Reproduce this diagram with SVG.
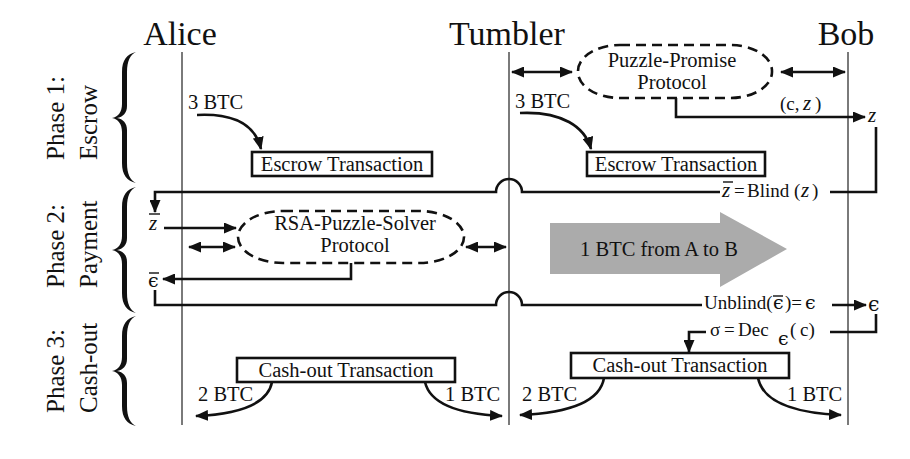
<svg xmlns="http://www.w3.org/2000/svg" width="910" height="459" viewBox="0 0 910 459">
<style>
text{font-family:"Liberation Serif","Times New Roman",serif;fill:#111}
.t{font-size:34px}
.ph{font-size:25px}
.l{font-size:20.5px}
.s{font-size:19px}
.z{font-size:21px;font-style:italic}
.m{font-family:"DejaVu Serif","Liberation Serif",serif}
.i{font-style:italic}
.life{stroke:#7a7a7a;stroke-width:2;fill:none}
.c{stroke:#111;stroke-width:2.6;fill:none}
.bar{stroke:#111;stroke-width:1.4}
.box{fill:#fff;stroke:#111;stroke-width:2.6}
.dash{fill:#fff;stroke:#111;stroke-width:2.6;stroke-dasharray:10 6}
.a{marker-end:url(#ah)}
.d{marker-start:url(#ah);marker-end:url(#ah)}
.brace{fill:#111}
</style>
<defs>
<marker id="ah" viewBox="0 0 13 11" refX="12" refY="5.5" markerWidth="13" markerHeight="11" markerUnits="userSpaceOnUse" orient="auto-start-reverse"><path d="M0,0 L13,5.5 L0,11 Z" fill="#111"/></marker>
</defs>
<rect width="910" height="459" fill="#fff"/>

<g id="titles">
<text class="t" x="180" y="45" text-anchor="middle">Alice</text>
<text class="t" x="507" y="45" text-anchor="middle">Tumbler</text>
<text class="t" x="846" y="45" text-anchor="middle">Bob</text>
</g>

<g id="lifelines">
<line class="life" x1="182" y1="52" x2="182" y2="425"/>
<line class="life" x1="509" y1="52" x2="509" y2="425"/>
<line class="life" x1="848" y1="52" x2="848" y2="425"/>
</g>

<g id="phase1">
<path class="brace" d="M136,52 C127,54 122,60 122,72 L122,104 C122,112 118,117 112,118 C118,119 122,124 122,132 L122,163 C122,175 127,181 136,183 C130,180 127,174 127,163 L127,130 C127,123 123,119 117,118 C123,117 127,113 127,106 L127,72 C127,61 130,55 136,52 Z"/>
<text class="ph" transform="translate(64,160) rotate(-90)">Phase 1:</text>
<text class="ph" transform="translate(97,160) rotate(-90)">Escrow</text>
</g>
<g id="phase2">
<path class="brace" d="M136,187 C127,189 122,195 122,207 L122,236 C122,244 118,249 112,250 C118,251 122,256 122,264 L122,293 C122,305 127,311 136,313 C130,310 127,304 127,293 L127,262 C127,255 123,251 117,250 C123,249 127,245 127,238 L127,207 C127,196 130,190 136,187 Z"/>
<text class="ph" transform="translate(64,288) rotate(-90)">Phase 2:</text>
<text class="ph" transform="translate(97,288) rotate(-90)">Payment</text>
</g>
<g id="phase3">
<path class="brace" d="M136,316 C127,318 122,324 122,336 L122,357 C122,365 118,370 112,371 C118,372 122,377 122,385 L122,406 C122,418 127,424 136,426 C130,423 127,417 127,406 L127,383 C127,376 123,372 117,371 C123,370 127,366 127,359 L127,336 C127,325 130,319 136,316 Z"/>
<text class="ph" transform="translate(64,413) rotate(-90)">Phase 3:</text>
<text class="ph" transform="translate(97,413) rotate(-90)">Cash-out</text>
</g>

<g id="connectors">
<path class="c a" d="M197,115 C238,113 256,128 261,149"/>
<path class="c a" d="M520,113 C562,111 585,127 591,149"/>
<line class="c d" x1="512" y1="72" x2="572" y2="72"/>
<line class="c d" x1="781" y1="72" x2="845" y2="72"/>
<path class="c a" d="M676,98 V117 H865"/>
<path class="c" d="M876,127 V192 H830"/>
<path class="c a" d="M720,192 H522 A13,13 0 0 0 496,192 H155 V212"/>
<line class="c a" x1="164" y1="228" x2="236" y2="228"/>
<line class="c d" x1="189" y1="247" x2="235" y2="247"/>
<line class="c d" x1="466" y1="247" x2="506" y2="247"/>
<path class="c a" d="M351,263 V279 H163"/>
<path class="c" d="M155,290 V305 H496 A13,13 0 0 1 522,305 H702"/>
<line class="c a" x1="832" y1="305" x2="866" y2="305"/>
<path class="c" d="M876,314 V332 H830"/>
<path class="c a" d="M706,332 H689 V352"/>
<path class="c a" d="M272,382 C268,404 240,414 196,416"/>
<path class="c a" d="M425,382 C430,404 458,414 502,416"/>
<path class="c a" d="M604,378 C600,402 568,413 520,415"/>
<path class="c a" d="M758,378 C763,402 793,413 841,415"/>
</g>

<g id="escrow-alice">
<text class="l" x="188" y="109">3 BTC</text>
<rect class="box" x="252" y="152" width="180" height="24"/>
<text class="l" x="342" y="171" text-anchor="middle">Escrow Transaction</text>
</g>
<g id="escrow-tumbler">
<text class="l" x="515" y="108">3 BTC</text>
<rect class="box" x="587" y="152" width="178" height="24"/>
<text class="l" x="676" y="171" text-anchor="middle">Escrow Transaction</text>
</g>

<g id="puzzle-promise">
<rect class="dash" x="578" y="45" width="194" height="53" rx="42" ry="26"/>
<text class="l" x="672" y="67" text-anchor="middle">Puzzle-Promise</text>
<text class="l" x="672" y="89" text-anchor="middle">Protocol</text>
</g>

<g id="labels-bob">
<text class="s" x="780" y="110">(c,<tspan x="803" class="z">z</tspan><tspan x="815">)</tspan></text>
<text class="z" x="868" y="122">z</text>
<text class="s" y="197"><tspan x="722" class="z">z</tspan><tspan x="734">=</tspan><tspan x="747">Blind</tspan><tspan x="794">(</tspan><tspan x="801" class="z">z</tspan><tspan x="812">)</tspan></text>
<line class="bar" x1="723" y1="182" x2="733" y2="182"/>
<text class="s" y="309"><tspan x="704">Unblind(</tspan><tspan x="773" class="m">ϵ</tspan><tspan x="785">)=</tspan><tspan x="805" class="m">ϵ</tspan></text>
<line class="bar" x1="773" y1="296" x2="783" y2="296"/>
<text class="l m" x="868" y="311">ϵ</text>
<text class="s" y="336"><tspan x="710">σ</tspan><tspan x="724">=</tspan><tspan x="738">Dec</tspan></text>
<text class="s m" x="778" y="345">ϵ</text>
<text class="s" y="336"><tspan x="790">(</tspan><tspan x="800">c)</tspan></text>
</g>

<g id="labels-alice">
<text class="z" x="149" y="230">z</text>
<line class="bar" x1="149" y1="214" x2="160" y2="214"/>
<text class="s m" x="148" y="287">ϵ</text>
<line class="bar" x1="149" y1="273" x2="159" y2="273"/>
</g>

<g id="rsa-solver">
<rect class="dash" x="238" y="211" width="226" height="52" rx="45" ry="26"/>
<text class="l" x="355" y="230" text-anchor="middle">RSA-Puzzle-Solver</text>
<text class="l" x="355" y="252" text-anchor="middle">Protocol</text>
</g>

<g id="payment-arrow">
<polygon points="550,223 720,223 720,212 787,249 720,287 720,274 550,274" fill="#ababab"/>
<text class="l" x="659" y="256" text-anchor="middle">1 BTC from A to B</text>
</g>

<g id="cashout-alice">
<rect class="box" x="237" y="358" width="218" height="24"/>
<text class="l" x="346" y="377" text-anchor="middle">Cash-out Transaction</text>
<text class="l" x="198" y="401">2 BTC</text>
<text class="l" x="445" y="401">1 BTC</text>
</g>
<g id="cashout-tumbler">
<rect class="box" x="571" y="353" width="218" height="25"/>
<text class="l" x="680" y="372" text-anchor="middle">Cash-out Transaction</text>
<text class="l" x="522" y="401">2 BTC</text>
<text class="l" x="787" y="401">1 BTC</text>
</g>
</svg>
